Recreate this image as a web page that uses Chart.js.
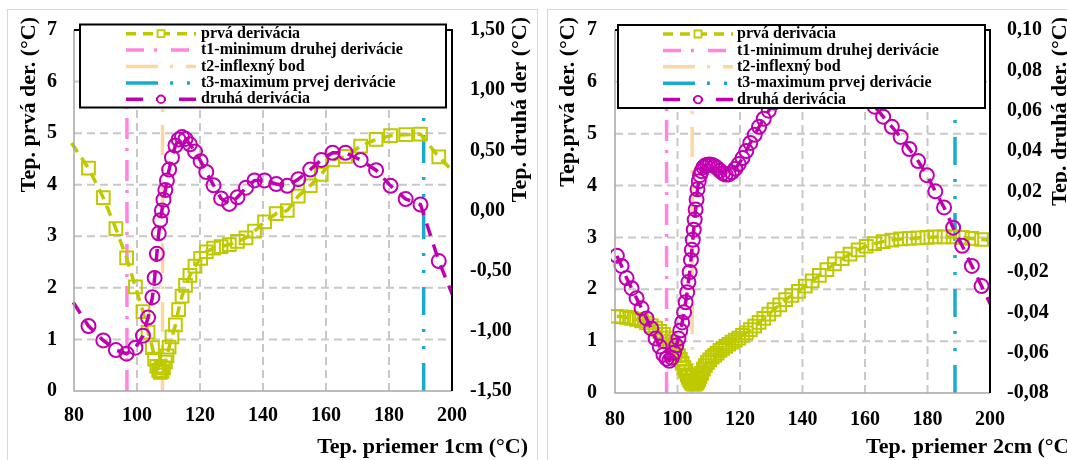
<!DOCTYPE html>
<html>
<head>
<meta charset="utf-8">
<script src="https://cdn.jsdelivr.net/npm/chart.js@4.4.0/dist/chart.umd.min.js"></script>
<style>
  html, body { margin: 0; padding: 0; background: #fff; }
  body { width: 1067px; height: 460px; position: relative; overflow: hidden; }
  .panel { position: absolute; border: 1px solid #d9d9d9; box-sizing: border-box; }
  #panel1 { left: 7px; top: 9px; width: 531px; height: 480px; }
  #panel2 { left: 547px; top: 9px; width: 540px; height: 480px; }
  .wrap { position: absolute; top: 0; height: 460px; }
  #wrap1 { left: 0; width: 540px; }
  #wrap2 { left: 540px; width: 527px; }
</style>
</head>
<body>
<div class="panel" id="panel1"></div>
<div class="panel" id="panel2"></div>
<div class="wrap" id="wrap1"><canvas id="chart1" width="540" height="460"></canvas></div>
<div class="wrap" id="wrap2"><canvas id="chart2" width="527" height="460"></canvas></div>
<script>
// ---------------------------------------------------------------------------
// data
// ---------------------------------------------------------------------------
const xRange = [80, 200];
const xStep = 20;
const yRange = [0, 7];

// 1 cm
const temp1cm = [76.0, 84.6, 89.3, 93.3, 96.7, 99.5, 101.9, 103.5, 104.9, 105.6,
  106.3, 106.9, 107.4, 107.9, 108.4, 109.0, 109.5, 110.2, 111.1, 112.2,
  113.2, 114.3, 115.4, 116.8, 118.4, 120.2, 122.0, 124.3, 126.7, 129.3,
  131.9, 134.6, 137.3, 140.5, 144.2, 147.7, 151.2, 155.0, 158.5, 162.1,
  166.2, 171.0, 175.9, 180.5, 185.3, 190.0, 195.8, 204.0];
const first1cm = [5.10, 4.32, 3.75, 3.15, 2.58, 2.02, 1.54, 1.14, 0.84, 0.62,
  0.48, 0.40, 0.36, 0.38, 0.45, 0.56, 0.68, 0.85, 1.05, 1.28,
  1.58, 1.84, 2.05, 2.24, 2.42, 2.57, 2.70, 2.77, 2.80, 2.84,
  2.90, 2.97, 3.10, 3.28, 3.44, 3.50, 3.78, 3.98, 4.20, 4.48,
  4.55, 4.75, 4.88, 4.95, 4.97, 4.98, 4.54, 4.03];
const second1cm = [-0.61, -0.96, -1.08, -1.16, -1.19, -1.14, -1.04, -0.89, -0.72, -0.56,
  -0.36, -0.19, -0.08, 0.00, 0.09, 0.17, 0.25, 0.34, 0.44, 0.54,
  0.59, 0.61, 0.595, 0.55, 0.49, 0.41, 0.32, 0.21, 0.10, 0.055,
  0.11, 0.19, 0.25, 0.25, 0.22, 0.205, 0.26, 0.34, 0.42, 0.48,
  0.48, 0.42, 0.335, 0.205, 0.095, 0.05, -0.42, -0.95];
const marks1cm = [96.8, 108.1, 191.0];          // t1, t2, t3
const y2Range1cm = [-1.5, 1.5];
const y2Step1cm = 0.5;

// 2 cm
const temp2cm = [80.6, 82.1, 83.7, 85.3, 86.9, 88.5, 90.1, 91.6, 93.0, 94.3,
  95.5, 96.5, 97.4, 98.2, 98.9, 99.6, 100.3, 100.9, 101.5, 102.1,
  102.6, 103.1, 103.5, 103.9, 104.3, 104.6, 104.9, 105.2, 105.5, 105.8,
  106.1, 106.4, 106.8, 107.2, 107.7, 108.3, 108.9, 109.6, 110.3, 111.1,
  111.9, 112.7, 113.6, 114.5, 115.4, 116.4, 117.4, 118.5, 119.6, 120.8,
  122.0, 123.3, 124.7, 126.1, 127.6, 129.2, 130.9, 132.7, 134.6, 136.6,
  138.7, 140.9, 143.1, 145.4, 147.8, 150.2, 152.7, 155.2, 157.8, 160.4,
  163.1, 165.8, 168.6, 171.4, 174.2, 177.0, 179.8, 182.5, 185.3, 188.2,
  191.1, 194.2, 197.3, 203.0];
const first2cm = [1.48, 1.47, 1.46, 1.44, 1.42, 1.39, 1.35, 1.30, 1.25, 1.19,
  1.13, 1.06, 0.99, 0.93, 0.87, 0.80, 0.72, 0.65, 0.57, 0.49,
  0.42, 0.35, 0.30, 0.25, 0.21, 0.19, 0.18, 0.17, 0.17, 0.18,
  0.20, 0.22, 0.26, 0.31, 0.38, 0.46, 0.53, 0.59, 0.64, 0.69,
  0.73, 0.77, 0.82, 0.86, 0.90, 0.94, 0.98, 1.02, 1.06, 1.11,
  1.16, 1.22, 1.29, 1.36, 1.44, 1.52, 1.61, 1.70, 1.80, 1.88,
  1.96, 2.06, 2.16, 2.27, 2.38, 2.49, 2.59, 2.68, 2.76, 2.83,
  2.88, 2.92, 2.95, 2.97, 2.98, 2.99, 3.00, 3.01, 3.01, 3.01,
  3.00, 2.98, 2.96, 2.93];
const second2cm = [-0.012, -0.017, -0.023, -0.028, -0.033, -0.038, -0.043, -0.048, -0.053, -0.057,
  -0.061, -0.063, -0.064, -0.0625, -0.060, -0.0565, -0.053, -0.049, -0.045, -0.040,
  -0.035, -0.030, -0.025, -0.020, -0.014, -0.009, -0.004, 0.001, 0.006, 0.011,
  0.016, 0.021, 0.025, 0.028, 0.030, 0.032, 0.0328, 0.0332, 0.0333, 0.0331,
  0.0325, 0.0315, 0.0302, 0.0290, 0.0283, 0.0284, 0.0294, 0.0312, 0.0335, 0.0365,
  0.040, 0.044, 0.048, 0.052, 0.056, 0.060, 0.064, 0.068, 0.072, 0.076,
  0.079, 0.082, 0.084, 0.085, 0.085, 0.084, 0.081, 0.077, 0.072, 0.067,
  0.062, 0.057, 0.052, 0.047, 0.041, 0.035, 0.028, 0.020, 0.012, 0.002,
  -0.007, -0.017, -0.027, -0.045];
const marks2cm = [96.5, 104.7, 188.8];
const y2Range2cm = [-0.08, 0.10];
const y2Step2cm = 0.02;

const seriesLabels = ['prvá derivácia', 't1-minimum druhej derivácie', 't2-inflexný bod',
  't3-maximum prvej derivácie', 'druhá derivácia'];

// ---------------------------------------------------------------------------
const FONT = '"Liberation Serif", "Times New Roman", serif';
const COL_FIRST = '#bfc900';
const COL_SECOND = '#c000b0';
const COL_T1 = '#ff85e0';
const COL_T2 = '#fdd7a0';
const COL_T3 = '#1aaad0';
const COL_GRID = '#c8c8c8';

const legendDash = [[10, 7], [18, 10, 3, 14], [32, 12, 3, 13], [32, 12, 3, 14, 3, 14], [17, 13, 10, 13, 17, 40]];

function pts(xs, ys) {
    return xs.map((x, i) => ({ x: x, y: ys[i] }));
}

function comma(v) {
    if (Math.abs(v) < 1e-9) v = 0;
    return v.toFixed(2).replace('.', ',');
}

// dashed grid, skipping the two outer ticks of each axis
function drawGrid(chart) {
    const ctx = chart.ctx;
    const a = chart.chartArea;
    const sx = chart.scales.x, sy = chart.scales.y;
    ctx.save();
    ctx.strokeStyle = COL_GRID;
    ctx.lineWidth = 2;
    ctx.setLineDash([8, 5]);
    for (let v = sx.min + xStep; v < sx.max; v += xStep) {
        const px = sx.getPixelForValue(v);
        ctx.beginPath();
        ctx.moveTo(px, a.bottom);
        ctx.lineTo(px, a.top);
        ctx.stroke();
    }
    for (let v = sy.min + 1; v < sy.max; v += 1) {
        const py = sy.getPixelForValue(v);
        ctx.beginPath();
        ctx.moveTo(a.left, py);
        ctx.lineTo(a.right, py);
        ctx.stroke();
    }
    ctx.restore();
}

const decorPlugin = {
    id: 'decor',
    beforeDatasetsDraw(chart) {
        drawGrid(chart);
    },
    afterDraw(chart, args, o) {
        const ctx = chart.ctx;
        const a = chart.chartArea;
        ctx.save();

        // plot frame: grey left/bottom, black top/right
        ctx.setLineDash([]);
        ctx.lineWidth = 1.5;
        ctx.strokeStyle = '#a6a6a6';
        ctx.beginPath();
        ctx.moveTo(a.left, a.top);
        ctx.lineTo(a.left, a.bottom);
        ctx.lineTo(a.right, a.bottom);
        ctx.stroke();
        ctx.lineWidth = 2;
        ctx.strokeStyle = '#000';
        ctx.beginPath();
        ctx.moveTo(a.left, a.top);
        ctx.lineTo(a.right, a.top);
        ctx.lineTo(a.right, a.bottom);
        ctx.stroke();

        // legend box
        const L = o.legend;
        ctx.fillStyle = '#fff';
        ctx.fillRect(L.x, L.y, L.w, L.h);
        ctx.strokeRect(L.x, L.y, L.w, L.h);
        ctx.font = 'bold 16px ' + FONT;
        ctx.textBaseline = 'middle';
        ctx.textAlign = 'left';
        chart.data.datasets.forEach((ds, i) => {
            const y = L.y + L.row0 + i * L.step;
            ctx.strokeStyle = ds.borderColor;
            ctx.lineWidth = 3.5;
            ctx.setLineDash(legendDash[i]);
            ctx.beginPath();
            ctx.moveTo(L.sx, y);
            ctx.lineTo(L.sx + L.sw, y);
            ctx.stroke();
            ctx.setLineDash([]);
            const cx = L.sx + L.sw / 2;
            if (ds.pointRadius > 0) {
                ctx.lineWidth = 1.8;
                ctx.fillStyle = '#fff';
                ctx.beginPath();
                if (ds.pointStyle === 'rect') ctx.rect(cx - 3.5, y - 3.5, 7, 7);
                else ctx.arc(cx, y, 3.8, 0, Math.PI * 2);
                ctx.fill();
                ctx.stroke();
            }
            ctx.fillStyle = '#000';
            ctx.fillText(ds.label, L.tx, y);
        });

        // axis titles
        ctx.font = 'bold 22px ' + FONT;
        ctx.fillStyle = '#000';
        ctx.textBaseline = 'alphabetic';
        ctx.textAlign = o.xTitle.align;
        ctx.fillText(o.xTitle.text, o.xTitle.x, o.xTitle.y);

        [o.yTitle, o.y2Title].forEach(t => {
            ctx.save();
            ctx.translate(t.x, t.y);
            ctx.rotate(-Math.PI / 2);
            ctx.textAlign = 'right';
            ctx.textBaseline = 'middle';
            ctx.fillText(t.text, 0, 0);
            ctx.restore();
        });
        ctx.restore();
    }
};

function buildChart(id, cfg) {
    const clip = { left: 4, top: 10, right: 0, bottom: 10 };
    const vline = (t, color, dash, label) => ({
        label: label,
        data: [{ x: t, y: yRange[0] }, { x: t, y: yRange[1] }],
        borderColor: color,
        borderWidth: 3.5,
        borderDash: dash,
        pointRadius: 0,
        yAxisID: 'y',
        order: 3
    });

    const datasets = [
        {
            label: seriesLabels[0],
            data: pts(cfg.temp, cfg.first),
            yAxisID: 'y',
            borderColor: COL_FIRST,
            borderWidth: 3.5,
            borderDash: [11, 7],
            pointStyle: 'rect',
            pointRadius: 9,
            pointBorderWidth: 2,
            pointBorderColor: COL_FIRST,
            pointBackgroundColor: 'rgba(0,0,0,0)',
            clip: clip,
            order: 2
        },
        vline(cfg.marks[0], COL_T1, [21, 9, 3, 9], seriesLabels[1]),
        vline(cfg.marks[1], COL_T2, [30, 13, 3, 13], seriesLabels[2]),
        vline(cfg.marks[2], COL_T3, [28, 14, 3, 14, 3, 14], seriesLabels[3]),
        {
            label: seriesLabels[4],
            data: pts(cfg.temp, cfg.second),
            yAxisID: 'y2',
            borderColor: COL_SECOND,
            borderWidth: 3.5,
            borderDash: [13, 9],
            pointStyle: 'circle',
            pointRadius: 7,
            pointBorderWidth: 2,
            pointBorderColor: COL_SECOND,
            pointBackgroundColor: 'rgba(0,0,0,0)',
            clip: clip,
            order: 1
        }
    ];

    return new Chart(document.getElementById(id), {
        type: 'line',
        data: { datasets: datasets },
        plugins: [decorPlugin],
        options: {
            responsive: false,
            animation: false,
            events: [],
            layout: { padding: { top: cfg.area.top, left: 0, right: 0, bottom: 0 } },
            plugins: {
                legend: { display: false },
                tooltip: { enabled: false },
                decor: {
                    legend: cfg.legend,
                    xTitle: cfg.xTitle,
                    yTitle: cfg.yTitle,
                    y2Title: cfg.y2Title
                }
            },
            scales: {
                x: {
                    type: 'linear',
                    min: xRange[0], max: xRange[1],
                    afterFit: s => { s.height = cfg.canvasH - cfg.area.bottom; },
                    ticks: {
                        stepSize: xStep, maxRotation: 0, autoSkip: false,
                        padding: cfg.xPad, color: '#000',
                        font: { family: FONT, size: 20, weight: 'bold' }
                    },
                    grid: { display: false, drawTicks: false },
                    border: { display: false }
                },
                y: {
                    position: 'left',
                    min: yRange[0], max: yRange[1],
                    afterFit: s => { s.width = cfg.area.left; },
                    ticks: {
                        stepSize: 1, padding: cfg.yPad, color: '#000',
                        font: { family: FONT, size: 20, weight: 'bold' }
                    },
                    grid: { display: false, drawTicks: false },
                    border: { display: false }
                },
                y2: {
                    position: 'right',
                    min: cfg.y2Range[0], max: cfg.y2Range[1],
                    afterFit: s => { s.width = cfg.canvasW - cfg.area.right; },
                    ticks: {
                        stepSize: cfg.y2Step, padding: cfg.y2Pad, color: '#000',
                        font: { family: FONT, size: 20, weight: 'bold' },
                        callback: v => comma(v)
                    },
                    grid: { display: false, drawTicks: false },
                    border: { display: false }
                }
            }
        }
    });
}

buildChart('chart1', {
    temp: temp1cm, first: first1cm, second: second1cm, marks: marks1cm,
    y2Range: y2Range1cm, y2Step: y2Step1cm,
    canvasW: 540, canvasH: 460,
    area: { left: 74, right: 452, top: 20, bottom: 391 },
    xPad: 13, yPad: 17, y2Pad: 18,
    legend: { x: 80, y: 24.5, w: 366, h: 83, row0: 9.2, step: 16.4, sx: 126, sw: 70, tx: 201 },
    xTitle: { text: 'Tep. priemer 1cm (°C)', x: 528, y: 453, align: 'right' },
    yTitle: { text: 'Tep. prvá der. (°C)', x: 29, y: 17 },
    y2Title: { text: 'Tep. druhá der (°C)', x: 520, y: 17 }
});

buildChart('chart2', {
    temp: temp2cm, first: first2cm, second: second2cm, marks: marks2cm,
    y2Range: y2Range2cm, y2Step: y2Step2cm,
    canvasW: 527, canvasH: 460,
    area: { left: 75, right: 450, top: 21, bottom: 393 },
    xPad: 15, yPad: 18, y2Pad: 17,
    legend: { x: 78, y: 25, w: 367, h: 83, row0: 9, step: 16.4, sx: 123, sw: 70, tx: 197 },
    xTitle: { text: 'Tep. priemer 2cm (°C)', x: 326, y: 453, align: 'left' },
    yTitle: { text: 'Tep.prvá der. (°C)', x: 28, y: 17 },
    y2Title: { text: 'Tep. druhá der. (°C)', x: 520, y: 17 }
});
</script>
</body>
</html>
